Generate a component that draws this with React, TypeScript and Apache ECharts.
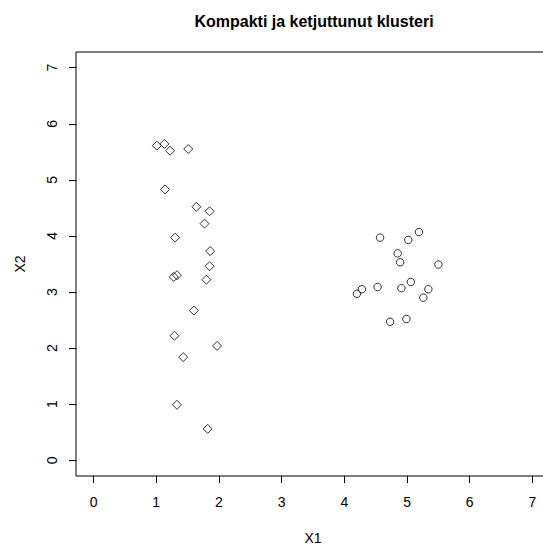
import React, { useEffect, useRef } from "react";
import * as echarts from "echarts";

// Chained (elongated) cluster, drawn with diamonds
const chainX = [1.01, 1.13, 1.22, 1.51, 1.14, 1.64, 1.85, 1.77, 1.30, 1.86, 1.85, 1.28, 1.33, 1.80, 1.60, 1.29, 1.97, 1.43, 1.33, 1.82];
const chainY = [5.61, 5.64, 5.52, 5.55, 4.83, 4.52, 4.44, 4.22, 3.97, 3.73, 3.46, 3.27, 3.30, 3.22, 2.67, 2.22, 2.04, 1.84, 0.99, 0.56];

// Compact cluster, drawn with circles
const compactX = [4.57, 5.02, 5.19, 4.85, 4.89, 5.50, 5.06, 4.91, 5.34, 4.53, 4.28, 4.20, 5.26, 4.73, 4.99];
const compactY = [3.97, 3.93, 4.07, 3.69, 3.53, 3.49, 3.18, 3.07, 3.05, 3.09, 3.05, 2.97, 2.90, 2.47, 2.52];

const xTicks = [0, 1, 2, 3, 4, 5, 6, 7];
const yTicks = [0, 1, 2, 3, 4, 5, 6, 7];

const FONT = "Liberation Sans, Arial, Helvetica, sans-serif";

export default function App() {
  const ref = useRef<HTMLDivElement>(null);

  useEffect(() => {
    if (!ref.current) return;
    const chart = echarts.init(ref.current, undefined, { renderer: "svg" });

    const pointStyle = {
      color: "transparent",
      borderColor: "#000",
      borderWidth: 1,
    };

    chart.setOption({
      animation: false,
      backgroundColor: "#fff",
      graphic: [
        {
          type: "text",
          x: 314,
          y: 21,
          style: {
            text: "Kompakti ja ketjuttunut klusteri",
            font: `bold 16px ${FONT}`,
            fill: "#000",
            textAlign: "center",
            textVerticalAlign: "middle",
          },
        },
      ],
      grid: {
        left: 76,
        top: 52,
        width: 474,
        height: 424,
        outerBoundsMode: "none",
        containLabel: false,
        show: true,
        borderColor: "#000",
        borderWidth: 1,
        backgroundColor: "transparent",
      },
      xAxis: {
        type: "value",
        min: -0.28,
        max: 7.28,
        position: "bottom",
        name: "X1",
        nameLocation: "middle",
        nameGap: 55,
        nameTextStyle: { fontFamily: FONT, fontSize: 14, color: "#000" },
        axisLine: { show: false, onZero: false },
        splitLine: { show: false },
        axisTick: {
          show: true,
          inside: false,
          length: 7,
          customValues: xTicks,
          lineStyle: { color: "#000", width: 1 },
        },
        axisLabel: {
          customValues: xTicks,
          margin: 19,
          fontFamily: FONT,
          fontSize: 14,
          color: "#000",
        },
      },
      yAxis: {
        type: "value",
        min: -0.28,
        max: 7.28,
        position: "left",
        name: "X2",
        nameLocation: "middle",
        nameGap: 49,
        nameRotate: 90,
        nameTextStyle: { fontFamily: FONT, fontSize: 14, color: "#000" },
        axisLine: { show: false, onZero: false },
        splitLine: { show: false },
        axisTick: {
          show: true,
          inside: false,
          length: 7,
          customValues: yTicks,
          lineStyle: { color: "#000", width: 1 },
        },
        axisLabel: {
          customValues: yTicks,
          rotate: 90,
          margin: 17,
          fontFamily: FONT,
          fontSize: 14,
          color: "#000",
        },
      },
      series: [
        {
          type: "scatter",
          name: "ketjuttunut",
          symbol: "diamond",
          symbolSize: 9,
          itemStyle: pointStyle,
          data: chainX.map((x, i) => [x, chainY[i]]),
        },
        {
          type: "scatter",
          name: "kompakti",
          symbol: "circle",
          symbolSize: 7.5,
          itemStyle: pointStyle,
          data: compactX.map((x, i) => [x, compactY[i]]),
        },
      ],
    });

    return () => chart.dispose();
  }, []);

  return (
    <div
      ref={ref}
      style={{ position: "absolute", left: 0, top: 0, width: 543, height: 546 }}
    />
  );
}
